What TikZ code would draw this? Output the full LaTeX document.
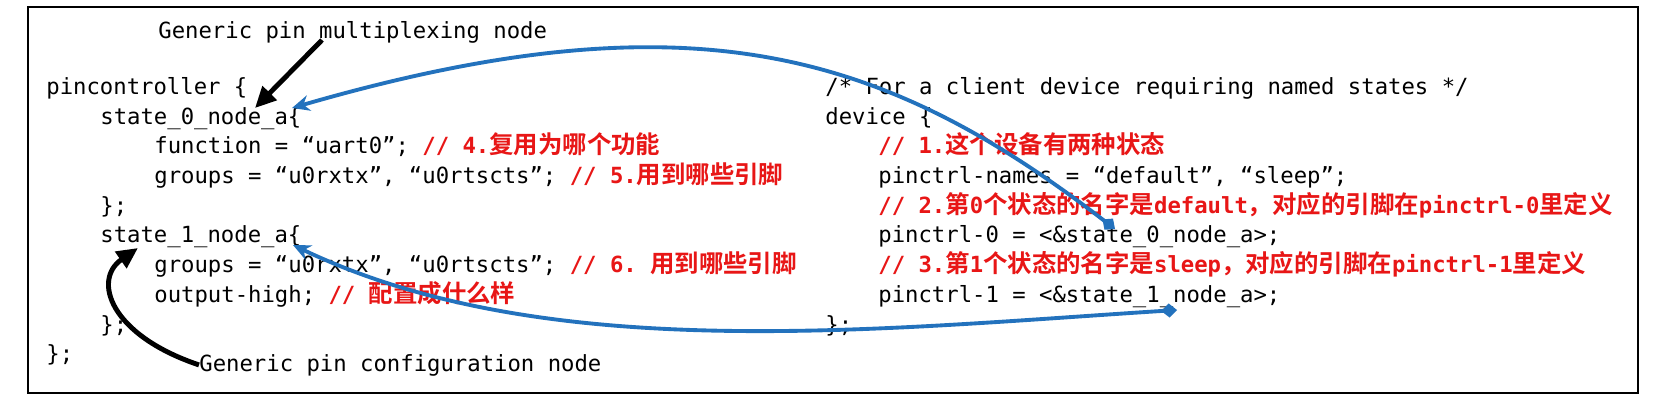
\documentclass[tikz,border=0pt]{standalone}
\usepackage{fontspec}
\setmonofont{DejaVu Sans Mono}
\newfontfamily\cjk{Noto Sans CJK SC}[BoldFont={Noto Sans CJK SC Bold}]
\usetikzlibrary{arrows.meta}
\definecolor{cmtred}{RGB}{232,22,22}
\definecolor{linkblue}{RGB}{35,114,189}
\newcommand\rc[1]{{\color{cmtred}\bfseries #1}}
\newcommand\zh[1]{{\cjk\bfseries\fontsize{13.9}{16}\selectfont #1}}

\begin{document}
\begin{tikzpicture}[x=0.02cm,y=-0.02cm,
    code/.style={anchor=base west,inner sep=0pt,font=\ttfamily\fontsize{12.67}{15}\selectfont},
    fatarrow/.style={line width=2.8pt,-{Triangle[length=12pt,width=11pt]}},
    linkarrow/.style={draw=linkblue,line width=2.2pt,{Diamond[length=9pt,width=8pt]}-{Stealth[length=10pt,width=9pt]}}]
    \fill[white] (0,0) rectangle (1658,406);
    \useasboundingbox (0,0) rectangle (1658,406);
    \draw[line width=1.2pt] (28,7) rectangle (1638,393);
    \node[code] (mux) at (158,38) {Generic pin multiplexing node};
    \node[code] (pc) at (46,94) {pincontroller \{};
    \node[code] (st0) at (100,124) {state\_0\_node\_a\{};
    \node[code] (fn) at (154,153) {function = “uart0”; \rc{// 4.\zh{复用为哪个功能}}};
    \node[code] (g0) at (154,183) {groups = “u0rxtx”, “u0rtscts”; \rc{// 5.\zh{用到哪些引脚}}};
    \node[code] (e0) at (100,213) {\};};
    \node[code] (st1) at (100,242) {state\_1\_node\_a\{};
    \node[code] (g1) at (154,272) {groups = “u0rxtx”, “u0rtscts”; \rc{// 6. \zh{用到哪些引脚}}};
    \node[code] (oh) at (154,302) {output-high; \rc{// \zh{配置成什么样}}};
    \node[code] (e1) at (100,332) {\};};
    \node[code] (e2) at (46,361) {\};};
    \node[code] (cfg) at (199,371) {Generic pin configuration node};
    \node[code] (cm) at (825,94) {/* For a client device requiring named states */};
    \node[code] (dev) at (825,124) {device \{};
    \node[code] (c1) at (878,153) {\rc{// 1.\zh{这个设备有两种状态}}};
    \node[code] (pn) at (878,183) {pinctrl-names = “default”, “sleep”;};
    \node[code] (c2) at (878,213) {\rc{// 2.\zh{第}0\zh{个状态的名字是}default\zh{，对应的引脚在}pinctrl-0\zh{里定义}}};
    \node[code] (p0) at (878,242) {pinctrl-0 = <\&state\_0\_node\_a>;};
    \node[code] (c3) at (878,272) {\rc{// 3.\zh{第}1\zh{个状态的名字是}sleep\zh{，对应的引脚在}pinctrl-1\zh{里定义}}};
    \node[code] (p1) at (878,302) {pinctrl-1 = <\&state\_1\_node\_a>;};
    \node[code] (e3) at (825,332) {\};};
    \coordinate (muxtail) at (322,40);
    \coordinate (st0tip) at (255,108);
    \coordinate (st1tip) at (138,248);
    \draw[fatarrow] (muxtail) -- (st0tip);
    \draw[fatarrow] (cfg.west) .. controls (110,335) and (92,280) .. (st1tip);
    \coordinate (p0ref) at (1115,229);
    \coordinate (st0in) at (292,108);
    \coordinate (p1ref) at (1177,310);
    \coordinate (st1in) at (293,245);
    \draw[linkarrow] (p0ref) .. controls (885,52) and (692,-8) .. (st0in);
    \draw[linkarrow] (p1ref) .. controls (877,329) and (546,366) .. (st1in);
\end{tikzpicture}
\end{document}
